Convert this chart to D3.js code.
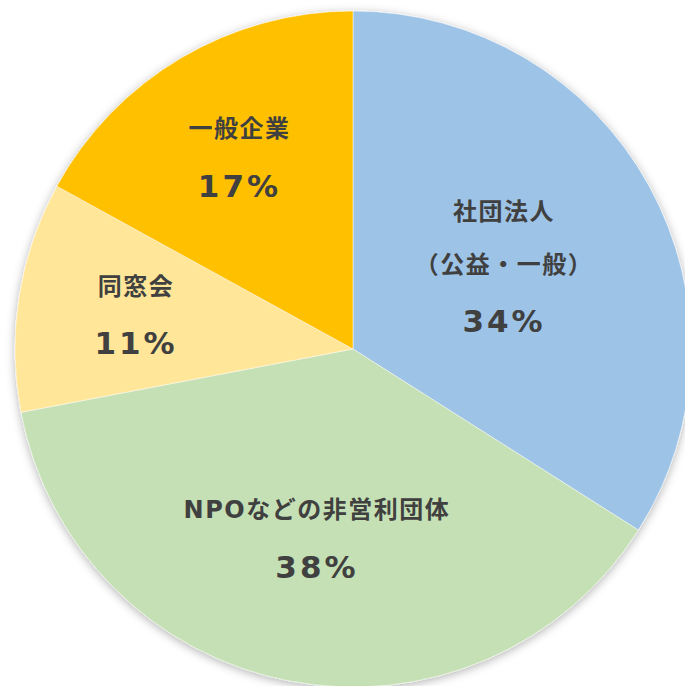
<!DOCTYPE html>
<html>
<head>
<meta charset="utf-8">
<script src="https://cdn.jsdelivr.net/npm/d3@7"></script>
<style>
  body { margin: 0; background: #fff; }
  svg { display: block; }
</style>
</head>
<body>
<div id="chart"></div>
<script>
// Data (clockwise from 12 o'clock)
const labels = [["社団法人", "（公益・一般）"], ["NPOなどの非営利団体"], ["同窓会"], ["一般企業"]];
const values = [34, 38, 11, 17];
const colors = ["#9DC3E6", "#C5E0B4", "#FFE699", "#FFC000"];

// Label distance from centre, as a share of the radius
const labelRadius = [0.51, 0.57, 0.65, 0.66];

const width = 685, height = 686;
const cx = 353, cy = 349, radius = 338;

const svg = d3.select("#chart").append("svg")
    .attr("width", width)
    .attr("height", height);

// Soft shadow round the pie
const defs = svg.append("defs");
defs.append("filter")
    .attr("id", "shadow")
    .attr("x", "-10%").attr("y", "-10%")
    .attr("width", "120%").attr("height", "120%")
    .append("feDropShadow")
    .attr("dx", 0).attr("dy", 2)
    .attr("stdDeviation", 5)
    .attr("flood-color", "#000")
    .attr("flood-opacity", 0.3);

const g = svg.append("g")
    .attr("transform", `translate(${cx}, ${cy})`);

const pie = d3.pie().sort(null).value(d => d);
const arcs = pie(values);

const arc = d3.arc().innerRadius(0).outerRadius(radius);

g.append("g")
    .attr("filter", "url(#shadow)")
    .selectAll("path")
    .data(arcs)
    .enter()
    .append("path")
    .attr("d", arc)
    .attr("fill", (d, i) => colors[i])
    .attr("stroke", "#fff")
    .attr("stroke-opacity", 0.6)
    .attr("stroke-width", 0.8);

// Labels
const nameGap = 53, pctGap = 57;
const lg = g.selectAll(".lbl")
    .data(arcs)
    .enter()
    .append("g")
    .attr("class", "lbl")
    .attr("transform", (d, i) => {
        let r = radius * labelRadius[i];
        let a = (d.startAngle + d.endAngle) / 2;
        return `translate(${r * Math.sin(a)}, ${-r * Math.cos(a)})`;
    });

lg.each(function(d, i) {
    let names = labels[i];
    let sel = d3.select(this);
    let total = (names.length - 1) * nameGap + pctGap;
    let y0 = -total / 2;
    names.forEach((t, j) => {
        sel.append("text")
            .attr("x", 0)
            .attr("y", y0 + j * nameGap)
            .attr("dy", "0.36em")
            .attr("text-anchor", "middle")
            .style("font-family", "'DejaVu Sans', 'Noto Sans CJK JP', sans-serif")
            .style("font-weight", 700)
            .style("font-size", "24px")
            .style("letter-spacing", "1.5px")
            .attr("fill", "#404040")
            .text(t);
    });
    sel.append("text")
        .attr("x", 0)
        .attr("y", y0 + (names.length - 1) * nameGap + pctGap)
        .attr("dy", "0.36em")
        .attr("text-anchor", "middle")
        .style("font-family", "'DejaVu Sans', sans-serif")
        .style("font-weight", 700)
        .style("font-size", "31px")
        .style("letter-spacing", "3px")
        .attr("fill", "#404040")
        .text(values[i] + "%");
});
</script>
</body>
</html>
